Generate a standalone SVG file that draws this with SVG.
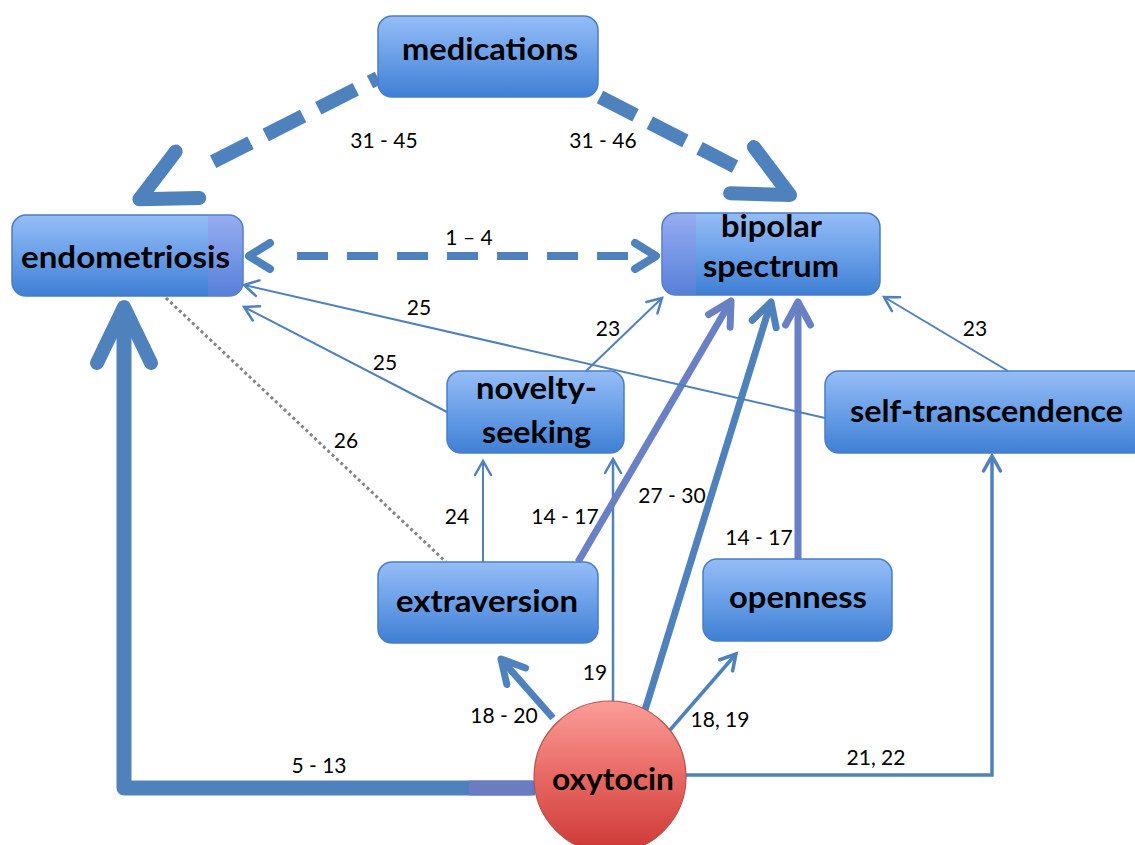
<svg xmlns="http://www.w3.org/2000/svg" width="1135" height="845" viewBox="0 0 1135 845">
<style>
.box{stroke:#4a7ec4;stroke-width:1.5;fill:url(#gBox)}
.title{font-family:Lato,"Open Sans","Liberation Sans",sans-serif;font-weight:bold;font-size:30px;fill:#000;text-anchor:middle}
.lbl{font-family:Lato,"Open Sans","Liberation Sans",sans-serif;font-size:21px;fill:#000;text-anchor:middle}
.c{fill:none;stroke:#4f81bd}
.p{stroke:#6a80c4}
.strip{fill:#9a80e0;opacity:0.27}
</style>
<defs>
<linearGradient id="gBox" x1="0" y1="0" x2="0" y2="1">
<stop offset="0" stop-color="#95bdf6"/>
<stop offset="0.5" stop-color="#6a9fe8"/>
<stop offset="1" stop-color="#3f7fd4"/>
</linearGradient>
<linearGradient id="gOxy" x1="0" y1="0" x2="0" y2="1">
<stop offset="0" stop-color="#fb9d98"/>
<stop offset="0.5" stop-color="#e86863"/>
<stop offset="1" stop-color="#cc3834"/>
</linearGradient>
<clipPath id="cEndo"><rect x="12" y="215" width="231" height="81" rx="14"/></clipPath>
<clipPath id="cBip"><rect x="662" y="213" width="218" height="82" rx="14"/></clipPath>
<marker id="mDashBig" markerUnits="userSpaceOnUse" viewBox="-20 -50 110 100" markerWidth="110" markerHeight="100" refX="0" refY="0" orient="auto" overflow="visible">
<path d="M0,-26 L54,0 L0,26" fill="none" stroke="#4f81bd" stroke-width="14" stroke-linecap="round" stroke-linejoin="round"/>
</marker>
<marker id="mDashMed" markerUnits="userSpaceOnUse" viewBox="-10 -25 50 50" markerWidth="50" markerHeight="50" refX="0" refY="0" orient="auto-start-reverse" overflow="visible">
<path d="M0,-13 L21,0 L0,13" fill="none" stroke="#4f81bd" stroke-width="8" stroke-linecap="round" stroke-linejoin="round"/>
</marker>
<marker id="mThick" markerUnits="userSpaceOnUse" viewBox="-80 -50 100 100" markerWidth="100" markerHeight="100" refX="0" refY="0" orient="auto" overflow="visible">
<path d="M-56,-27 L0,0 L-56,27" fill="none" stroke="#4f81bd" stroke-width="14" stroke-linecap="round" stroke-linejoin="round"/>
</marker>
<marker id="mMed" markerUnits="userSpaceOnUse" viewBox="-40 -25 50 50" markerWidth="50" markerHeight="50" refX="0" refY="0" orient="auto" overflow="visible">
<path d="M-23,-12.5 L0,0 L-23,12.5" fill="none" stroke="#4f81bd" stroke-width="7" stroke-linecap="round" stroke-linejoin="round"/>
</marker>
<marker id="mMedP" markerUnits="userSpaceOnUse" viewBox="-40 -25 50 50" markerWidth="50" markerHeight="50" refX="0" refY="0" orient="auto" overflow="visible">
<path d="M-23,-12.5 L0,0 L-23,12.5" fill="none" stroke="#6a80c4" stroke-width="7" stroke-linecap="round" stroke-linejoin="round"/>
</marker>
<marker id="mSmall" markerUnits="userSpaceOnUse" viewBox="-30 -20 40 40" markerWidth="40" markerHeight="40" refX="0" refY="0" orient="auto" overflow="visible">
<path d="M-15,-8.5 L0,0 L-15,8.5" fill="none" stroke="#4f81bd" stroke-width="3.5" stroke-linecap="round" stroke-linejoin="miter"/>
</marker>
<marker id="mThin" markerUnits="userSpaceOnUse" viewBox="-30 -20 40 40" markerWidth="40" markerHeight="40" refX="0" refY="0" orient="auto" overflow="visible">
<path d="M-14,-8 L0,0 L-14,8" fill="none" stroke="#4f81bd" stroke-width="2.5" stroke-linecap="round" stroke-linejoin="miter"/>
</marker>
</defs>
<rect width="1135" height="845" fill="#fff"/>

<g id="connectors">
<path class="c" d="M378,78 L187.5,174.8" stroke-width="14" stroke-dasharray="9 16 42 17 42 17 42 60" marker-end="url(#mDashBig)"/>
<path class="c" d="M600,97 L742,170.2" stroke-width="14" stroke-dasharray="40 16 40 16 40 40" marker-end="url(#mDashBig)"/>
<path class="c" d="M270,256 L635,256" stroke-width="8" stroke-dasharray="0 27 31 19 31 19 31 19 31 19 31 19 31 19 31 60" marker-start="url(#mDashMed)" marker-end="url(#mDashMed)"/>
<path class="c" d="M535,788 L124,788 L124,312" stroke-width="15" stroke-linejoin="round"/>
<path class="c" d="M124,320 L124,307" stroke-width="1" stroke="none" marker-end="url(#mThick)"/>
<path d="M469,788 L532,788" fill="none" stroke="#6a7cc2" stroke-width="15"/>
<path class="c" d="M553,718 L501,659" stroke-width="7" marker-end="url(#mMed)"/>
<path class="c" d="M613,702 L613,459" stroke-width="2.5" marker-end="url(#mThin)"/>
<path class="c p" d="M578,562 L731,301" stroke-width="7" marker-end="url(#mMedP)"/>
<path class="c" d="M645,710 L771,302" stroke-width="7" marker-end="url(#mMed)"/>
<path class="c p" d="M798,559 L798,302" stroke-width="7" marker-end="url(#mMedP)"/>
<path class="c" d="M670,730 L736,654" stroke-width="3.5" marker-end="url(#mSmall)"/>
<path class="c" d="M686,775 L992,775 L992,456" stroke-width="3.5" marker-end="url(#mSmall)"/>
<path class="c" d="M483,562 L483,461" stroke-width="2" marker-end="url(#mThin)"/>
<path class="c" d="M447,412 L244,307" stroke-width="2" marker-end="url(#mThin)"/>
<path class="c" d="M825,418 L244,285" stroke-width="2" marker-end="url(#mThin)"/>
<path class="c" d="M586,371 L662,298" stroke-width="2" marker-end="url(#mThin)"/>
<path class="c" d="M1008,371 L884,297" stroke-width="2" marker-end="url(#mThin)"/>
<path d="M166,298 L446,562" fill="none" stroke="#858585" stroke-width="3" stroke-dasharray="3 3"/>
<text class="lbl" x="384" y="148">31 - 45</text>
<text class="lbl" x="603" y="148">31 - 46</text>
<text class="lbl" x="469" y="245">1 – 4</text>
<text class="lbl" x="419" y="315">25</text>
<text class="lbl" x="385" y="370">25</text>
<text class="lbl" x="346" y="448">26</text>
<text class="lbl" x="457" y="524">24</text>
<text class="lbl" x="565" y="524">14 - 17</text>
<text class="lbl" x="608" y="336">23</text>
<text class="lbl" x="975" y="336">23</text>
<text class="lbl" x="672" y="503">27 - 30</text>
<text class="lbl" x="759" y="545">14 - 17</text>
<text class="lbl" x="595" y="680">19</text>
<text class="lbl" x="504" y="723">18 - 20</text>
<text class="lbl" x="720" y="727">18, 19</text>
<text class="lbl" x="876" y="765">21, 22</text>
<text class="lbl" x="319" y="773">5 - 13</text>
</g>

<g id="medications">
<rect class="box" x="378" y="16" width="220" height="81" rx="14"/>
<text class="title" x="490" y="60" textLength="176" lengthAdjust="spacingAndGlyphs">medications</text>
</g>
<g id="endometriosis">
<rect class="box" x="12" y="215" width="231" height="81" rx="14"/>
<rect class="strip" x="208" y="215" width="40" height="81" clip-path="url(#cEndo)"/>
<text class="title" x="125.5" y="268" textLength="209" lengthAdjust="spacingAndGlyphs">endometriosis</text>
</g>
<g id="bipolar-spectrum">
<rect class="box" x="662" y="213" width="218" height="82" rx="14"/>
<rect class="strip" x="655" y="213" width="41" height="82" clip-path="url(#cBip)"/>
<text class="title" x="771.5" y="237" textLength="101" lengthAdjust="spacingAndGlyphs">bipolar</text>
<text class="title" x="771" y="277" textLength="136" lengthAdjust="spacingAndGlyphs">spectrum</text>
</g>
<g id="novelty-seeking">
<rect class="box" x="447" y="371" width="177" height="82" rx="14"/>
<text class="title" x="536.5" y="399" textLength="121" lengthAdjust="spacingAndGlyphs">novelty-</text>
<text class="title" x="536.5" y="443" textLength="109" lengthAdjust="spacingAndGlyphs">seeking</text>
</g>
<g id="self-transcendence">
<rect class="box" x="825" y="371" width="330" height="82" rx="14"/>
<text class="title" x="986.5" y="422" textLength="273" lengthAdjust="spacingAndGlyphs">self-transcendence</text>
</g>
<g id="extraversion">
<rect class="box" x="378" y="562" width="220" height="81" rx="14"/>
<text class="title" x="487" y="612" textLength="182" lengthAdjust="spacingAndGlyphs">extraversion</text>
</g>
<g id="openness">
<rect class="box" x="703" y="559" width="189" height="82" rx="14"/>
<text class="title" x="798" y="608" textLength="138" lengthAdjust="spacingAndGlyphs">openness</text>
</g>
<g id="oxytocin">
<circle cx="610" cy="777" r="76" fill="url(#gOxy)" stroke="#b9504c" stroke-width="1.2"/>
<text class="title" x="613" y="790" textLength="122" lengthAdjust="spacingAndGlyphs">oxytocin</text>
</g>
</svg>
